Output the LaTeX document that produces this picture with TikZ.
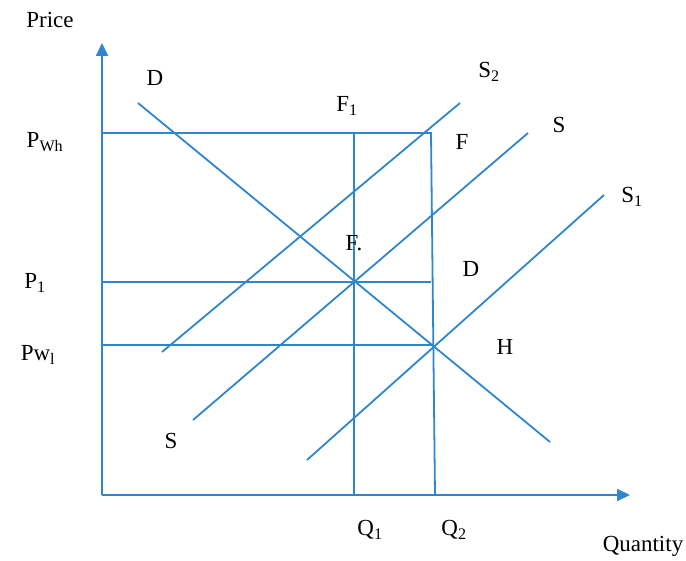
\documentclass[tikz,border=0pt]{standalone}
\usepackage{fontspec}
\setmainfont{Liberation Serif}
\usetikzlibrary{arrows.meta}
\definecolor{lblue}{RGB}{46,134,208}
\begin{document}
\begin{tikzpicture}[x=1pt,y=-1pt,
  ln/.style={draw=lblue,line width=1.8pt},
  ax/.style={draw=lblue,line width=2pt,-{Triangle[length=13pt,width=12pt]}},
  lbl/.style={inner sep=0pt,font=\fontsize{23}{27}\selectfont}]
\useasboundingbox (0,0) rectangle (686,561);
% axes
\coordinate (O) at (102,495);
\coordinate (ytop) at (102,43);
\coordinate (xend) at (630,495);
\draw[ax] (O) -- (ytop);
\draw[ax] (O) -- (xend);
% price lines
\coordinate (pwh0) at (102,133);
\coordinate (pwh1) at (431,133);
\coordinate (p10) at (102,282);
\coordinate (p11) at (431,282);
\coordinate (pwl0) at (102,345);
\coordinate (pwl1) at (434,345);
\coordinate (q1t) at (354,133);
\coordinate (q1b) at (354,495);
\coordinate (q2b) at (435,495);
\draw[ln] (pwh0) -- (pwh1) -- (q2b);
\draw[ln] (p10) -- (p11);
\draw[ln] (pwl0) -- (pwl1);
\draw[ln] (q1t) -- (q1b);
% demand and supply
\coordinate (d0) at (138,103);
\coordinate (d1) at (550,442);
\coordinate (s20) at (162,352);
\coordinate (s21) at (460,103);
\coordinate (s0) at (193,420);
\coordinate (s1) at (528,133);
\coordinate (s10) at (307,460);
\coordinate (s11) at (604,195);
\draw[ln] (d0) -- (d1);
\draw[ln] (s20) -- (s21);
\draw[ln] (s0) -- (s1);
\draw[ln] (s10) -- (s11);
% labels
\node[lbl] (price) at (50,20) {Price};
\node[lbl] (quantity) at (643,546) {Quantity};
\node[lbl] (lD1) at (155,78) {D};
\node[lbl] (lS2) at (489,72) {S\textsubscript{2}};
\node[lbl] (lF1) at (347,106) {F\textsubscript{1}};
\node[lbl] (lF) at (462,142) {F};
\node[lbl] (lS) at (559,125) {S};
\node[lbl] (lS1) at (632,197) {S\textsubscript{1}};
\node[lbl] (lE) at (354,243) {F.};
\node[lbl] (lD2) at (471,269) {D};
\node[lbl] (lH) at (505,347) {H};
\node[lbl] (lSb) at (171,441) {S};
\node[lbl] (lPwh) at (45,142) {P\textsubscript{Wh}};
\node[lbl] (lP1) at (35,283) {P\textsubscript{1}};
\node[lbl] (lPwl) at (38,355) {Pw\textsubscript{l}};
\node[lbl] (lQ1) at (370,530) {Q\textsubscript{1}};
\node[lbl] (lQ2) at (454,530) {Q\textsubscript{2}};
\end{tikzpicture}
\end{document}
